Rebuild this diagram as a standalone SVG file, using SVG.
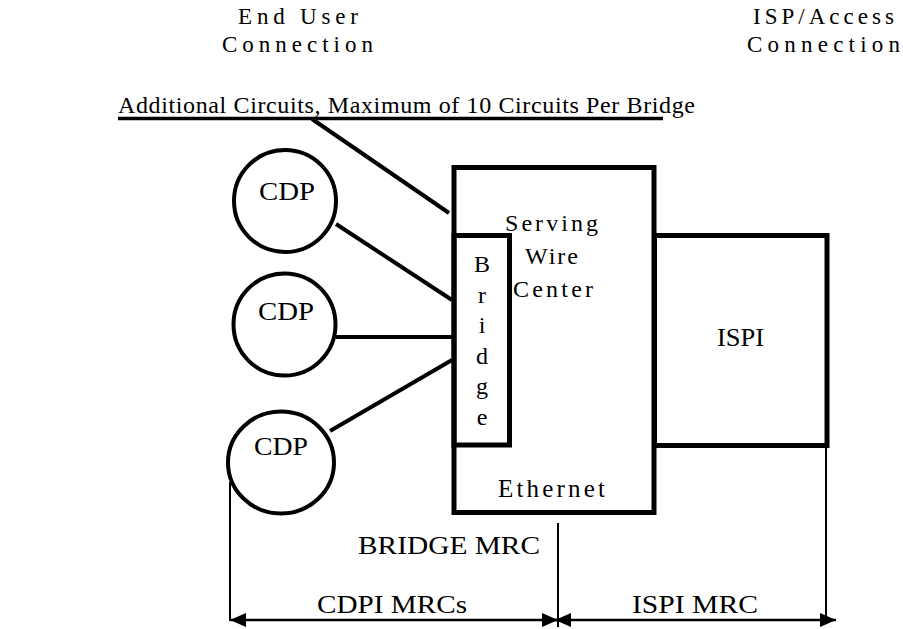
<svg xmlns="http://www.w3.org/2000/svg" width="903" height="629" viewBox="0 0 903 629">
<style>
text{font-family:"Liberation Serif","Times New Roman",serif;font-size:25px;fill:#000}
.t{font-size:23px}
.s{font-size:24px}
.box{fill:none;stroke:#000;stroke-width:5}
.circ{fill:#fff;stroke:#000;stroke-width:4}
.conn{stroke:#000;stroke-width:4;fill:none}
.thin{stroke:#000;stroke-width:2;fill:none}
.dim{stroke:#000;stroke-width:2.5;fill:none;marker-start:url(#ah);marker-end:url(#ah)}
</style>
<defs>
<marker id="ah" viewBox="0 0 16 14" refX="16" refY="7" markerWidth="16" markerHeight="14" markerUnits="userSpaceOnUse" orient="auto-start-reverse">
<path d="M0,0 L16,7 L0,14 Z" fill="#000"/>
</marker>
</defs>
<g id="titles">
<text class="t" x="238" y="24" textLength="120" lengthAdjust="spacing">End User</text>
<text class="t" x="222" y="52" textLength="151" lengthAdjust="spacing">Connection</text>
<text class="t" x="753" y="24" textLength="141" lengthAdjust="spacing">ISP/Access</text>
<text class="t" x="747" y="52" textLength="153" lengthAdjust="spacing">Connection</text>
</g>
<g id="additional-circuits">
<text class="s" x="118" y="113" textLength="577" lengthAdjust="spacing">Additional Circuits, Maximum of 10 Circuits Per Bridge</text>
<line x1="118" y1="118.5" x2="663" y2="118.5" stroke="#000" stroke-width="3.5"/>
</g>
<g id="serving-wire-center">
<rect class="box" x="454" y="167.5" width="200" height="345"/>
<text class="s" x="505" y="231" textLength="93" lengthAdjust="spacing">Serving</text>
<text class="s" x="525" y="264" textLength="53" lengthAdjust="spacing">Wire</text>
<text class="s" x="513" y="297" textLength="80" lengthAdjust="spacing">Center</text>
<text x="498" y="497" textLength="107" lengthAdjust="spacing">Ethernet</text>
</g>
<g id="bridge">
<rect class="box" x="454" y="235.5" width="55.5" height="209.5" fill="#fff"/>
<g text-anchor="middle" class="s">
<text class="s" x="482" y="272">B</text>
<text class="s" x="482" y="303">r</text>
<text class="s" x="482" y="333">i</text>
<text class="s" x="482" y="364">d</text>
<text class="s" x="482" y="394">g</text>
<text class="s" x="482" y="425">e</text>
</g>
</g>
<g id="ispi">
<rect class="box" x="654.5" y="235.5" width="172.5" height="210"/>
<text x="717" y="346" textLength="47" lengthAdjust="spacingAndGlyphs">ISPI</text>
</g>
<g id="connectors">
<line class="conn" x1="312" y1="119" x2="449" y2="213"/>
<line class="conn" x1="336" y1="224" x2="452" y2="300"/>
<line class="conn" x1="336" y1="337" x2="452" y2="337"/>
<line class="conn" x1="330" y1="431" x2="452" y2="360"/>
<line class="thin" x1="230" y1="482" x2="230" y2="621"/>
<line class="thin" x1="558" y1="523" x2="558" y2="627"/>
<line class="thin" x1="826" y1="448" x2="826" y2="621"/>
<line class="dim" x1="230" y1="620" x2="558" y2="620"/>
<line class="dim" x1="555" y1="620" x2="836" y2="620"/>
</g>
<g id="cdp1">
<circle class="circ" cx="285" cy="201" r="51"/>
<text x="259" y="200" textLength="56" lengthAdjust="spacingAndGlyphs">CDP</text>
</g>
<g id="cdp2">
<circle class="circ" cx="284.5" cy="324.5" r="51"/>
<text x="258" y="320" textLength="56" lengthAdjust="spacingAndGlyphs">CDP</text>
</g>
<g id="cdp3">
<ellipse class="circ" cx="281" cy="462.5" rx="53" ry="51"/>
<text x="254" y="455" textLength="54" lengthAdjust="spacingAndGlyphs">CDP</text>
</g>
<g id="labels">
<text x="358" y="554" textLength="182" lengthAdjust="spacingAndGlyphs">BRIDGE MRC</text>
<text x="317" y="613" textLength="150" lengthAdjust="spacingAndGlyphs">CDPI MRCs</text>
<text x="632" y="613" textLength="126" lengthAdjust="spacingAndGlyphs">ISPI MRC</text>
</g>
</svg>
